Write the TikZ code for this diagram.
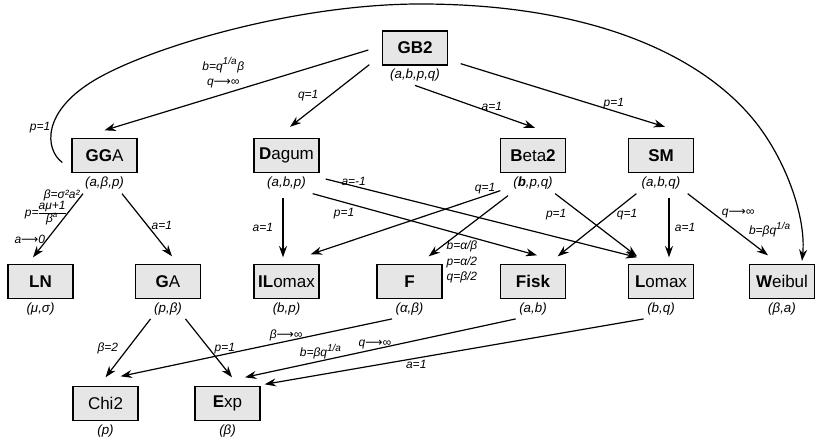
\documentclass[tikz,border=0pt]{standalone}
\usepackage{fontspec}
\setmainfont{Liberation Sans}
\newfontfamily\arrowfont{DejaVu Sans}
\usetikzlibrary{arrows.meta,positioning}
\definecolor{boxgray}{RGB}{230,230,230}
\newcommand{\lto}{{\arrowfont\upshape ⟶}}
\newcommand{\powa}{\textsuperscript{\fontsize{7.5}{8}\selectfont 1/a}}

\tikzset{
  distbox/.style={draw, fill=boxgray, line width=1pt, minimum width=48.75pt, minimum height=25.5pt,
    inner sep=0pt, font=\fontsize{12.75}{14}\selectfont},
  parlab/.style={inner sep=2.3pt, font=\fontsize{10}{11}\selectfont\itshape},
  elab/.style={inner sep=1pt, font=\fontsize{9}{11.8}\selectfont\itshape},
}

\begin{document}
\begin{tikzpicture}[x=0.75pt, y=-0.75pt, line width=0.9pt, >={Stealth[length=8.5pt,width=6pt]}]
    \useasboundingbox (0,0) rectangle (818,438);
    % distributions, top down
    \node [distbox, label={[parlab,name=gb2p]below:(a,b,p,q)}] (gb2) at (415,48) {\textbf{GB2}};
    \node [distbox, label={[parlab,name=ggap]below:(a,β,p)}] (gga) at (104.5,155.5) {\textbf{GG}A};
    \node [distbox, label={[parlab,name=dagump]below:(a,b,p)}] (dagum) at (286.5,155.5) {\textbf{D}agum};
    \node [distbox, label={[parlab,name=beta2p]below:(\textbf{b},p,q)}] (beta2) at (533,155.5) {\textbf{B}eta\textbf{2}};
    \node [distbox, label={[parlab,name=smp]below:(a,b,q)}] (sm) at (661,155.5) {\textbf{SM}};
    \node [distbox, label={[parlab,name=lnp]below:(μ,σ)}] (ln) at (40.5,281.5) {\textbf{LN}};
    \node [distbox, label={[parlab,name=gap]below:(p,β)}] (ga) at (168,281.5) {\textbf{G}A};
    \node [distbox, label={[parlab,name=ilomaxp]below:(b,p)}] (ilomax) at (286.5,281.5) {\textbf{IL}omax};
    \node [distbox, label={[parlab,name=fp]below:(α,β)}] (f) at (409.5,281.5) {\textbf{F}};
    \node [distbox, label={[parlab,name=fiskp]below:(a,b)}] (fisk) at (533,281.5) {\textbf{Fisk}};
    \node [distbox, label={[parlab,name=lomaxp]below:(b,q)}] (lomax) at (661,281.5) {\textbf{L}omax};
    \node [distbox, label={[parlab,name=weibulp]below:(β,a)}] (weibul) at (782,281.5) {\textbf{W}eibul};
    \node [distbox, label={[parlab,name=chi2p]below:(p)}] (chi2) at (105.5,403.5) {Chi2};
    \node [distbox, label={[parlab,name=expp]below:(β)}] (exp) at (227.5,403.5) {\textbf{E}xp};
    % from GB2
    \draw [->] ([shift={(-13.5,2)}]gb2.west) -- node [elab, pos=.55, above=3pt, align=center]
    {b=q\powa β\\q\lto∞} ([shift={(0,-7.5)}]gga.north);
    \draw [->] ([shift={(-12.5,-1)}]gb2.south west) -- node [elab, left=7pt] {q=1}
    ([shift={(3.5,-11)}]dagum.north);
    \draw [->] (gb2p.south) -- node [elab, pos=.64, above] {a=1} ([shift={(2,-10)}]beta2.north);
    \draw [->] ([shift={(12.5,-2)}]gb2.south east) -- node [elab, pos=.75, above] {p=1}
    ([shift={(4,-11)}]sm.north);
    % GGA with p=1 round the top to Weibul
    \draw [->] ([shift={(-9,7)}]gga.west) .. controls (45,150) and (40,110) .. (100,77)
    node [elab, pos=.5, left] {p=1}
    .. controls (160,44) and (300,4) .. (420,4) .. controls (600,4) and (710,60) .. (760,128)
    .. controls (790,169) and (806,222) .. ([shift={(20,-3)}]weibul.north);
    % from GGA
    \draw [->] ([shift={(-21.5,20.5)}]gga.south) --
    node [elab, pos=.03, left] {β=σ²a²}
    node [elab, pos=.31, left] {p=\renewcommand{\arraystretch}{0.8}\begin{tabular}{@{}c@{}}aμ+1\\\hline β\textsuperscript{a}\end{tabular}}
    node [elab, pos=.72, left] {a\lto 0} ([shift={(-7.5,-6.5)}]ln.north);
    \draw [->] ([shift={(17.5,20.5)}]gga.south) -- node [elab, right=2pt] {a=1}
    ([shift={(4,-7.5)}]ga.north);
    % from Dagum
    \draw [->] ([shift={(-3.5,24.5)}]dagum.south) -- node [elab, left=6pt] {a=1}
    ([shift={(-3.5,-6.5)}]ilomax.north);
    \draw [->] ([shift={(-7,20.5)}]dagum.south east) -- node [elab, pos=.14, below=3pt] {p=1}
    ([shift={(4,-8.5)}]fisk.north);
    \draw [->] ([shift={(6,23.5)}]dagum.east) -- node [elab, pos=.09, above=-1pt] {a=-1}
    ([shift={(-24,-6.5)}]lomax.north);
    % from Beta2
    \draw [->] ([shift={(0.5,17.5)}]beta2.south west) -- node [elab, pos=.08, above] {q=1}
    ([shift={(-9,-9.5)}]ilomax.north east);
    \draw [->] ([shift={(-25,22.5)}]beta2.south) -- ([shift={(-14,-7.5)}]f.north east);
    \node [elab, align=left, anchor=north west] (fcond) at ([shift={(2,-25)}]f.north east)
    {b=α/β\\p=α/2\\q=β/2};
    \draw [->] ([shift={(-11,20.5)}]beta2.south east) -- node [elab, pos=.34, left=11pt] {p=1}
    ([shift={(-24,-7.5)}]lomax.north);
    % from SM
    \draw [->] ([shift={(8.5,20.5)}]sm.south west) -- node [elab, pos=.34, right=4pt] {q=1}
    ([shift={(-8.5,-7.5)}]fisk.north east);
    \draw [->] ([shift={(8,24.5)}]sm.south) -- node [elab, right=3pt] {a=1}
    ([shift={(8,-6.5)}]lomax.north);
    \draw [->] ([shift={(-6.5,20.5)}]sm.south east) --
    node [elab, pos=.32, right=5pt] {q\lto∞}
    node [elab, pos=.59, right=9pt] {b=βq\powa} ([shift={(-14,-8.5)}]weibul.north);
    % down to Chi2 and Exp
    \draw [->] (gap.south west) -- node [elab, left=6pt] {β=2} ([shift={(0,-8.5)}]chi2.north);
    \draw [->] (gap.south east) -- node [elab, right=3pt] {p=1} ([shift={(4.5,-8.5)}]exp.north);
    \draw [->] (fp.south west) -- node [elab, pos=.39, above=-1pt] {β\lto∞}
    ([shift={(-18,-9.5)}]chi2.north east);
    \draw [->] (fiskp.south west) --
    node [elab, pos=.72, above] {b=βq\powa}
    node [elab, pos=.52, above=-1pt] {q\lto∞} ([shift={(17.5,-8.5)}]exp.north);
    \draw [->] (lomaxp.south west) -- node [elab, pos=.6, below] {a=1}
    ([shift={(4,-1.5)}]exp.north east);
  \end{tikzpicture}
\end{document}
